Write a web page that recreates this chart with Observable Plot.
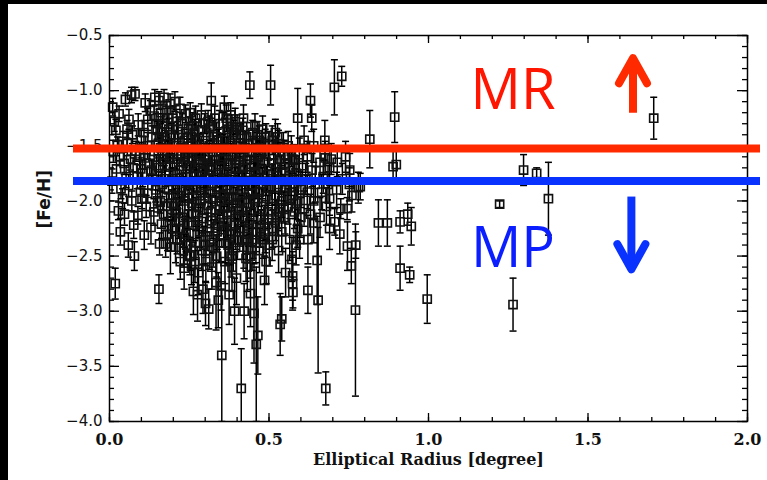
<!DOCTYPE html>
<html>
<head>
<meta charset="utf-8">
<script src="https://cdn.jsdelivr.net/npm/d3@7"></script>
<script src="https://cdn.jsdelivr.net/npm/@observablehq/plot@0.6"></script>
<style>
  html, body { margin: 0; padding: 0; background: #fff; }
  #wrap { position: relative; width: 767px; height: 480px; overflow: hidden; }
  #edge { position: absolute; left: 0; top: 0; width: 767px; height: 480px; box-sizing: border-box;
          border-left: 8px solid #000; border-top: 4px solid #000; pointer-events: none; }
</style>
</head>
<body>
<div id="wrap"><div id="chart"></div><div id="edge"></div></div>
<script>
// ---- data: [elliptical radius (deg), [Fe/H], error] ----
const innerStars = [
  [0.010,-1.15,0.08],[0.030,-1.21,0.07],[0.020,-1.36,0.10],[0.042,-1.46,0.09],[0.012,-1.55,0.10],[0.031,-1.60,0.08],
  [0.022,-1.71,0.12],[0.046,-1.66,0.10],[0.036,-1.89,0.09],[0.028,-2.09,0.08],[0.047,-2.12,0.10],[0.018,-2.75,0.14],
  [0.008,-1.82,0.11],[0.041,-1.98,0.09],[0.025,-1.49,0.07],[0.015,-1.28,0.09],[0.052,-1.78,0.10],[0.034,-2.28,0.12],
  [0.050,-1.08,0.06],[0.069,-1.04,0.07],[0.080,-1.03,0.06],[0.061,-1.26,0.09],[0.090,-1.31,0.10],[0.072,-1.40,0.08],
  [0.056,-1.48,0.11],[0.083,-1.55,0.09],[0.066,-1.62,0.10],[0.094,-1.59,0.12],[0.074,-1.70,0.09],[0.087,-1.78,0.11],
  [0.060,-1.86,0.10],[0.070,-2.00,0.09],[0.089,-2.13,0.08],[0.059,-2.40,0.11],[0.078,-2.50,0.13],[0.097,-1.92,0.10],
  [0.076,-2.22,0.12],[0.055,-1.35,0.08],[0.100,-1.45,0.09],[0.098,-1.71,0.10],
  [0.128,-1.18,0.09],[0.112,-1.11,0.08],[0.142,-1.06,0.07],[0.120,-1.26,0.10],[0.146,-1.30,0.09],[0.108,-1.38,0.11],
  [0.133,-1.42,0.10],[0.150,-1.36,0.08],[0.119,-1.50,0.12],[0.140,-1.55,0.09],[0.111,-1.61,0.10],[0.126,-1.66,0.11],
  [0.147,-1.68,0.09],[0.104,-1.75,0.12],[0.136,-1.80,0.10],[0.120,-1.93,0.09],[0.145,-1.90,0.11],[0.115,-2.05,0.10],
  [0.139,-2.10,0.12],[0.130,-2.24,0.15],[0.109,-2.31,0.13],[0.151,-2.00,0.10],[0.131,-1.72,0.09],[0.153,-1.48,0.10],
  [0.102,-1.98,0.09],[0.140,-1.23,0.09],
  [0.155,-1.09,0.08],[0.171,-1.06,0.07],[0.190,-1.12,0.09],[0.161,-1.20,0.10],[0.180,-1.18,0.08],[0.199,-1.25,0.11],
  [0.166,-1.30,0.09],[0.186,-1.35,0.10],[0.156,-1.42,0.12],[0.176,-1.45,0.09],[0.194,-1.40,0.10],[0.160,-1.52,0.11],
  [0.181,-1.55,0.09],[0.197,-1.58,0.12],[0.170,-1.62,0.10],[0.191,-1.68,0.11],[0.154,-1.70,0.09],[0.175,-1.75,0.12],
  [0.196,-1.80,0.10],[0.165,-1.85,0.11],[0.185,-1.90,0.09],[0.200,-1.95,0.13],[0.159,-2.01,0.10],[0.179,-2.05,0.12],
  [0.170,-2.12,0.11],[0.193,-2.15,0.14],[0.163,-2.21,0.13],[0.157,-2.39,0.10],[0.176,-2.39,0.12],[0.191,-2.42,0.24],
  [0.155,-2.80,0.13],[0.182,-2.30,0.15],[0.198,-2.25,0.13],[0.166,-1.58,0.10],[0.186,-1.48,0.09],
  [0.165,-1.38,0.10],[0.188,-1.62,0.11],[0.172,-1.80,0.12],[0.195,-2.02,0.12],[0.183,-1.25,0.09]
];
const coreStars = [
  [0.205,-1.10,0.09],[0.221,-1.16,0.10],[0.238,-1.21,0.08],[0.210,-1.28,0.11],[0.229,-1.30,0.09],[0.248,-1.34,0.10],
  [0.214,-1.40,0.12],[0.234,-1.45,0.10],[0.204,-1.50,0.11],[0.224,-1.52,0.09],[0.244,-1.56,0.12],[0.211,-1.62,0.10],
  [0.231,-1.65,0.13],[0.250,-1.68,0.11],[0.219,-1.72,0.10],[0.241,-1.78,0.12],[0.206,-1.82,0.11],[0.226,-1.88,0.13],
  [0.246,-1.90,0.10],[0.215,-1.95,0.12],[0.236,-2.00,0.14],[0.249,-2.05,0.11],[0.209,-2.10,0.13],[0.229,-2.15,0.15],
  [0.245,-2.20,0.12],[0.220,-2.25,0.14],[0.240,-2.30,0.16],[0.212,-2.35,0.13],[0.232,-2.45,0.15],[0.252,-2.50,0.17],
  [0.234,-2.61,0.19],[0.222,-2.55,0.16],[0.242,-2.40,0.14],[0.201,-2.05,0.12],[0.236,-1.60,0.10],
  [0.215,-1.35,0.11],[0.243,-1.43,0.12],[0.227,-1.58,0.10],[0.212,-1.76,0.13],[0.238,-1.84,0.12],[0.220,-1.98,0.14],
  [0.247,-2.12,0.13],[0.217,-2.19,0.15],[0.235,-2.33,0.16],[0.207,-2.42,0.14],
  [0.253,-1.20,0.09],[0.270,-1.25,0.11],[0.288,-1.22,0.10],[0.261,-1.32,0.12],[0.280,-1.36,0.10],[0.298,-1.30,0.09],
  [0.256,-1.42,0.11],[0.275,-1.45,0.13],[0.294,-1.48,0.10],[0.265,-1.53,0.12],[0.284,-1.56,0.11],[0.259,-1.62,0.10],
  [0.279,-1.65,0.13],[0.300,-1.60,0.12],[0.268,-1.70,0.11],[0.290,-1.74,0.14],[0.255,-1.78,0.12],[0.274,-1.82,0.10],
  [0.295,-1.86,0.13],[0.264,-1.90,0.12],[0.285,-1.95,0.11],[0.299,-1.98,0.14],[0.258,-2.02,0.13],[0.280,-2.06,0.12],
  [0.270,-2.12,0.15],[0.291,-2.16,0.13],[0.262,-2.22,0.16],[0.282,-2.28,0.14],[0.301,-2.32,0.17],[0.271,-2.38,0.15],
  [0.289,-2.45,0.18],[0.253,-2.49,0.14],[0.279,-2.65,0.20],[0.263,-2.82,0.21],[0.276,-2.85,0.24],[0.293,-2.80,0.22],
  [0.302,-2.55,0.19],[0.257,-2.58,0.18],[0.286,-2.00,0.12],[0.296,-1.70,0.11],
  [0.266,-1.38,0.12],[0.283,-1.50,0.11],[0.260,-1.57,0.13],[0.292,-1.66,0.12],[0.272,-1.77,0.14],[0.300,-1.80,0.13],
  [0.261,-1.96,0.12],[0.278,-2.18,0.15],[0.296,-2.40,0.17],[0.268,-2.55,0.19],
  [0.319,-1.09,0.16],[0.309,-1.28,0.10],[0.330,-1.25,0.11],[0.344,-1.30,0.12],[0.305,-1.38,0.11],[0.325,-1.40,0.13],
  [0.341,-1.45,0.10],[0.314,-1.50,0.12],[0.335,-1.52,0.11],[0.350,-1.55,0.13],[0.310,-1.60,0.12],[0.329,-1.63,0.14],
  [0.346,-1.67,0.11],[0.320,-1.72,0.13],[0.339,-1.76,0.12],[0.304,-1.80,0.14],[0.324,-1.84,0.11],[0.345,-1.88,0.13],
  [0.316,-1.93,0.12],[0.334,-1.97,0.15],[0.351,-2.00,0.13],[0.309,-2.04,0.14],[0.331,-2.08,0.12],[0.346,-2.12,0.15],
  [0.321,-2.18,0.16],[0.340,-2.22,0.14],[0.306,-2.28,0.17],[0.326,-2.32,0.15],[0.344,-2.38,0.18],[0.314,-2.45,0.17],
  [0.336,-2.50,0.19],[0.334,-2.74,0.43],[0.350,-2.77,0.22],[0.352,-3.40,0.60],[0.321,-2.60,0.20],[0.341,-2.90,0.25],
  [0.311,-2.98,0.18],[0.301,-2.93,0.20],
  [0.314,-1.34,0.11],[0.336,-1.42,0.13],[0.322,-1.56,0.12],[0.349,-1.62,0.14],[0.312,-1.69,0.13],[0.331,-1.79,0.12],
  [0.349,-1.95,0.15],[0.318,-2.10,0.14],[0.338,-2.28,0.16],[0.326,-2.42,0.18],
  [0.360,-1.15,0.10],[0.380,-1.22,0.11],[0.394,-1.28,0.12],[0.356,-1.30,0.10],[0.371,-1.35,0.13],[0.389,-1.38,0.11],
  [0.361,-1.45,0.12],[0.379,-1.48,0.14],[0.399,-1.50,0.11],[0.366,-1.55,0.13],[0.386,-1.58,0.12],[0.355,-1.62,0.14],
  [0.374,-1.66,0.11],[0.395,-1.70,0.13],[0.360,-1.74,0.12],[0.381,-1.78,0.15],[0.400,-1.82,0.12],[0.369,-1.86,0.14],
  [0.390,-1.90,0.13],[0.356,-1.94,0.15],[0.376,-1.98,0.12],[0.396,-2.02,0.14],[0.361,-2.06,0.13],[0.382,-2.10,0.16],
  [0.402,-2.14,0.14],[0.370,-2.18,0.15],[0.391,-2.22,0.17],[0.359,-2.26,0.16],[0.379,-2.30,0.14],[0.401,-2.35,0.18],
  [0.372,-2.40,0.17],[0.388,-2.45,0.19],[0.362,-2.55,0.20],[0.384,-2.60,0.22],[0.398,-2.70,0.24],[0.375,-2.85,0.27],
  [0.392,-3.00,0.30],[0.358,-2.20,0.15],[0.385,-1.60,0.12],
  [0.366,-1.25,0.12],[0.384,-1.33,0.11],[0.357,-1.52,0.13],[0.393,-1.63,0.12],[0.365,-1.80,0.14],[0.387,-1.96,0.13],
  [0.368,-2.12,0.15],[0.395,-2.28,0.16],[0.364,-2.38,0.18],[0.381,-2.50,0.19],
  [0.400,-1.33,0.11],[0.420,-1.25,0.12],[0.440,-0.95,0.12],[0.410,-1.40,0.10],[0.430,-1.42,0.13],[0.449,-1.38,0.11],
  [0.406,-1.48,0.12],[0.425,-1.52,0.14],[0.445,-1.55,0.11],[0.412,-1.60,0.13],[0.431,-1.63,0.12],[0.451,-1.66,0.14],
  [0.419,-1.70,0.13],[0.440,-1.74,0.15],[0.404,-1.78,0.12],[0.424,-1.82,0.14],[0.446,-1.86,0.13],[0.415,-1.90,0.15],
  [0.435,-1.94,0.12],[0.452,-1.98,0.14],[0.409,-2.02,0.16],[0.429,-2.06,0.13],[0.444,-2.10,0.15],[0.420,-2.15,0.17],
  [0.439,-2.20,0.14],[0.411,-2.25,0.16],[0.431,-2.30,0.18],[0.450,-2.35,0.17],[0.421,-2.42,0.19],[0.441,-2.50,0.20],
  [0.442,-2.84,0.30],[0.422,-3.00,0.25],[0.413,-3.70,0.36],[0.432,-2.60,0.22],[0.416,-2.00,0.14],
  [0.418,-1.36,0.11],[0.437,-1.48,0.12],[0.408,-1.65,0.14],[0.427,-1.76,0.13],[0.447,-1.93,0.15],[0.414,-2.09,0.14],
  [0.436,-2.25,0.16],[0.418,-2.36,0.17],[0.447,-2.44,0.19],[0.428,-2.52,0.21]
];
const midStars = [
  [0.480,-1.35,0.12],[0.456,-1.32,0.11],[0.470,-1.45,0.13],[0.490,-1.42,0.12],[0.461,-1.52,0.14],[0.481,-1.55,0.12],
  [0.499,-1.50,0.13],[0.466,-1.60,0.15],[0.486,-1.64,0.12],[0.455,-1.68,0.14],[0.475,-1.72,0.13],[0.495,-1.76,0.15],
  [0.460,-1.80,0.13],[0.480,-1.84,0.14],[0.500,-1.88,0.16],[0.470,-1.92,0.13],[0.490,-1.96,0.15],[0.455,-2.00,0.14],
  [0.476,-2.05,0.16],[0.496,-2.10,0.15],[0.465,-2.15,0.17],[0.485,-2.20,0.16],[0.460,-2.28,0.18],[0.481,-2.35,0.17],
  [0.501,-2.40,0.19],[0.470,-2.45,0.20],[0.486,-2.72,0.22],[0.453,-3.02,0.45],[0.465,-3.22,0.35],[0.460,-3.30,0.70],
  [0.505,-0.95,0.18],[0.491,-2.55,0.20],
  [0.463,-1.40,0.12],[0.488,-1.48,0.13],[0.472,-1.58,0.12],[0.458,-1.74,0.14],[0.492,-1.82,0.13],[0.466,-1.98,0.15],
  [0.497,-2.16,0.14],[0.474,-2.25,0.17],[0.459,-2.38,0.18],[0.488,-2.30,0.17],
  [0.520,-1.38,0.12],[0.510,-1.45,0.13],[0.530,-1.48,0.12],[0.545,-1.52,0.14],[0.515,-1.58,0.13],[0.535,-1.62,0.15],
  [0.550,-1.66,0.13],[0.520,-1.70,0.14],[0.540,-1.75,0.16],[0.510,-1.80,0.13],[0.530,-1.85,0.15],[0.550,-1.90,0.14],
  [0.520,-1.95,0.16],[0.540,-2.00,0.15],[0.510,-2.05,0.14],[0.530,-2.10,0.17],[0.550,-2.15,0.15],[0.520,-2.20,0.16],
  [0.540,-2.28,0.18],[0.535,-3.12,0.28],[0.540,-3.07,0.20],[0.552,-2.65,0.22],[0.510,-2.35,0.19],[0.530,-2.45,0.20],
  [0.527,-1.42,0.12],[0.548,-1.58,0.13],[0.515,-1.66,0.14],[0.537,-1.81,0.13],[0.518,-1.88,0.15],[0.546,-2.06,0.14],
  [0.525,-2.15,0.16],[0.512,-2.25,0.17],
  [0.590,-1.25,0.27],[0.580,-1.63,0.14],[0.560,-1.50,0.13],[0.570,-1.55,0.14],[0.595,-1.58,0.15],[0.565,-1.70,0.14],
  [0.585,-1.75,0.16],[0.560,-1.80,0.15],[0.580,-1.85,0.14],[0.600,-1.90,0.16],[0.570,-1.95,0.15],[0.590,-2.00,0.17],
  [0.560,-2.05,0.16],[0.580,-2.10,0.15],[0.600,-2.15,0.18],[0.572,-2.53,0.20],[0.574,-2.68,0.22],[0.574,-2.75,0.24],
  [0.575,-2.83,0.14],[0.590,-2.25,0.17],[0.565,-2.35,0.19],[0.585,-2.40,0.18],
  [0.575,-1.62,0.13],[0.592,-1.80,0.14],[0.566,-1.88,0.15],[0.584,-2.02,0.14],[0.596,-2.35,0.17],
  [0.630,-1.09,0.15],[0.634,-1.25,0.12],[0.610,-1.45,0.13],[0.640,-1.50,0.15],[0.620,-1.60,0.14],[0.605,-1.68,0.16],
  [0.635,-1.72,0.15],[0.615,-1.80,0.14],[0.645,-1.85,0.16],[0.620,-1.92,0.15],[0.640,-2.00,0.17],[0.610,-2.07,0.16],
  [0.630,-2.12,0.18],[0.622,-2.35,0.22],[0.622,-2.81,0.21],[0.651,-2.54,0.40],[0.654,-2.90,0.66],[0.640,-2.20,0.18],
  [0.675,-1.45,0.18],[0.676,-1.61,0.15],[0.660,-1.65,0.14],[0.690,-1.70,0.16],[0.670,-1.78,0.15],[0.685,-1.85,0.17],
  [0.665,-1.92,0.16],[0.690,-1.98,0.15],[0.678,-3.70,0.15],[0.680,-2.05,0.17],[0.660,-2.15,0.18],[0.705,-0.97,0.25],
  [0.690,-2.25,0.19],[0.695,-1.62,0.14],
  [0.728,-0.87,0.09],[0.714,-1.65,0.13],[0.725,-2.07,0.09],[0.745,-2.07,0.10],[0.706,-2.19,0.12],[0.753,-1.72,0.15],
  [0.746,-2.41,0.22],[0.758,-2.59,0.16],[0.772,-2.40,0.12],[0.771,-2.99,0.78],[0.780,-1.88,0.14],[0.786,-1.87,0.12],
  [0.730,-1.80,0.14],[0.760,-1.95,0.15],[0.712,-1.90,0.16],[0.740,-1.60,0.14],[0.722,-2.30,0.18],[0.752,-1.85,0.15]
];
const outerStars = [
  [0.816,-1.44,0.26],[0.894,-1.24,0.23],[0.889,-1.69,0.14],[0.899,-1.67,0.12],[0.843,-2.20,0.21],[0.871,-2.20,0.21],
  [0.911,-2.19,0.10],[0.935,-2.12,0.10],[0.946,-2.23,0.17],[0.911,-2.61,0.20],[0.941,-2.67,0.07],[0.996,-2.89,0.22],
  [1.223,-2.03,0.03],[1.265,-2.94,0.24],[1.298,-1.72,0.14],[1.339,-1.75,0.05],[1.376,-1.98,0.33],[1.706,-1.25,0.19]
];

// axis ticks
const xMajor = [0, 0.5, 1.0, 1.5, 2.0];
const xMinor = d3.range(0, 2.0001, 0.1).map(v => +v.toFixed(1));
const yMajor = [-4.0, -3.5, -3.0, -2.5, -2.0, -1.5, -1.0, -0.5];
const yMinor = d3.range(-4.0, -0.4999, 0.1).map(v => +v.toFixed(1));

// metal-rich / metal-poor split annotations
const groupNames = ["MR", "MP"];
const groupCut = [-1.525, -1.82];
const groupLineColor = ["#ff2a00", "#0a32ff"];
const groupTextColor = ["#ff1500", "#0a1eff"];
const labelRadius = [1.265, 1.265];
const labelFeh = [-1.0, -2.44];
const arrowRadius = [1.641, 1.636];
const arrowTail = [-1.205, -1.965];
const arrowTip = [-0.705, -2.62];

// ---- build ----
const stars = [...innerStars, ...coreStars, ...midStars, ...outerStars]
  .map(([r, feh, err]) => ({r, feh, lo: feh - err, hi: feh + err}));
const caps = stars.flatMap(d => [{r: d.r, v: d.lo}, {r: d.r, v: d.hi}]);
const groups = groupNames.map((name, i) => ({
  name, cut: groupCut[i], line: groupLineColor[i], text: groupTextColor[i],
  lr: labelRadius[i], lf: labelFeh[i], ar: arrowRadius[i], tail: arrowTail[i], tip: arrowTip[i],
  up: i === 0
}));

const W = 767, H = 480, mL = 109, mR = 20, mT = 35, mB = 59;
const FW = W - mL - mR, FH = H - mT - mB;

const capSymbol = {draw(ctx, size) { const w = Math.sqrt(size / Math.PI); ctx.moveTo(-w, 0); ctx.lineTo(w, 0); }};
const chevronUp = {draw(ctx, size) { const w = Math.sqrt(size / Math.PI); ctx.moveTo(-w, 1.8 * w); ctx.lineTo(0, 0); ctx.lineTo(w, 1.8 * w); }};
const chevronDown = {draw(ctx, size) { const w = Math.sqrt(size / Math.PI); ctx.moveTo(-w, -1.8 * w); ctx.lineTo(0, 0); ctx.lineTo(w, -1.8 * w); }};

const ink = "#000";
const sansFont = "'DejaVu Sans', sans-serif";
const serifFont = "'DejaVu Serif', serif";
const handFont = "'Open Sans', 'Noto Sans', sans-serif";

const chart = Plot.plot({
  width: W, height: H,
  marginLeft: mL, marginRight: mR, marginTop: mT, marginBottom: mB,
  style: {background: "white", color: "#000"},
  x: {domain: [0, 2], label: null},
  y: {domain: [-4, -0.5], label: null},
  color: {type: "identity"},
  marks: [
    // error bars
    Plot.ruleX(stars, {x: "r", y1: "lo", y2: "hi", stroke: ink, strokeWidth: 1.5, clip: true}),
    Plot.dot(caps, {x: "r", y: "v", symbol: capSymbol, r: 3.5, stroke: ink, strokeWidth: 1.5, fill: "none", clip: true}),
    // stars
    Plot.dot(stars, {x: "r", y: "feh", symbol: "square", r: 4.6, stroke: "#111", strokeWidth: 1.6, fill: "none"}),
    // frame & inward ticks
    Plot.frame({stroke: "#000", strokeWidth: 1.5}),
    Plot.ruleX(xMinor, {x: d => d, insetTop: FH - 4, stroke: "#000", strokeWidth: 1.3}),
    Plot.ruleX(xMajor, {x: d => d, insetTop: FH - 8, stroke: "#000", strokeWidth: 1.3}),
    Plot.ruleX(xMinor, {x: d => d, insetBottom: FH - 4, stroke: "#000", strokeWidth: 1.3}),
    Plot.ruleX(xMajor, {x: d => d, insetBottom: FH - 8, stroke: "#000", strokeWidth: 1.3}),
    Plot.ruleY(yMinor, {y: d => d, insetRight: FW - 5, stroke: "#000", strokeWidth: 1.3}),
    Plot.ruleY(yMajor, {y: d => d, insetRight: FW - 10, stroke: "#000", strokeWidth: 1.3}),
    Plot.ruleY(yMinor, {y: d => d, insetLeft: FW - 5, stroke: "#000", strokeWidth: 1.3}),
    Plot.ruleY(yMajor, {y: d => d, insetLeft: FW - 10, stroke: "#000", strokeWidth: 1.3}),
    // axis labels
    Plot.axisX({ticks: xMajor, tickSize: 0, tickPadding: 12, tickFormat: d => d.toFixed(1),
      fontSize: 16, fontFamily: serifFont, fontWeight: "bold", fill: "#111", label: null}),
    Plot.axisY({ticks: yMajor, tickSize: 0, tickPadding: 7, tickFormat: d => "\u2212" + Math.abs(d).toFixed(1),
      fontSize: 15, fontFamily: sansFont, fill: "#111", label: null}),
    Plot.text(["Elliptical Radius [degree]"], {frameAnchor: "bottom", dy: 43, fontSize: 16,
      fontFamily: serifFont, fontWeight: "bold", fill: "#111"}),
    Plot.text(["[Fe/H]"], {frameAnchor: "left", dx: -65, rotate: -90, fontSize: 17,
      fontFamily: sansFont, fontWeight: "bold", fill: "#111"}),
    // MR / MP dividing lines
    Plot.ruleY(groups, {y: "cut", stroke: "line", strokeWidth: 8, insetLeft: -36, insetRight: -13}),
    // labels
    Plot.text(groups, {x: "lr", y: "lf", text: "name", fill: "text", fontSize: 56, fontFamily: handFont}),
    // arrows
    Plot.ruleX(groups, {x: "ar", y1: "tail", y2: "tip", stroke: "line", strokeWidth: 8}),
    Plot.dot(groups.filter(g => g.up), {x: "ar", y: "tip", symbol: chevronUp, r: 14, stroke: "line", fill: "none",
      strokeWidth: 8, strokeLinecap: "round", strokeLinejoin: "round"}),
    Plot.dot(groups.filter(g => !g.up), {x: "ar", y: "tip", symbol: chevronDown, r: 14, stroke: "line", fill: "none",
      strokeWidth: 8, strokeLinecap: "round", strokeLinejoin: "round"})
  ]
});
document.getElementById("chart").appendChild(chart);
</script>
</body>
</html>
